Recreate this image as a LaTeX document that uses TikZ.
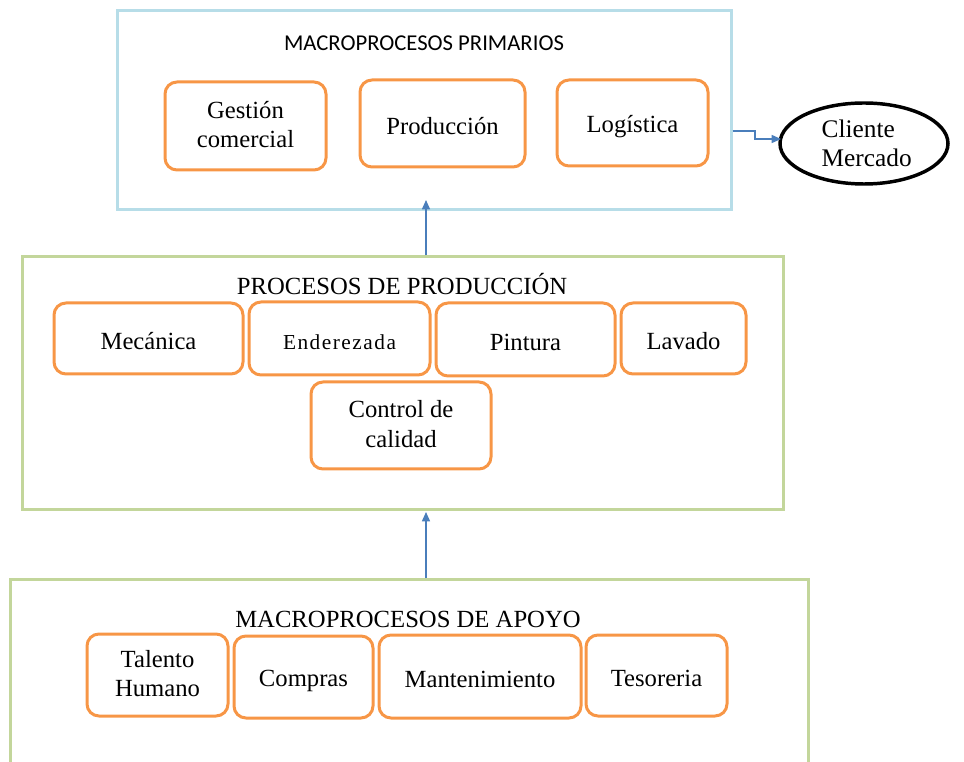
\documentclass[tikz,border=0pt]{standalone}
\usepackage{fontspec}
\setmainfont{Liberation Serif}
\newfontfamily\calibri{Carlito}
\usepackage{tikz}
\usetikzlibrary{shapes.geometric, arrows.meta}

\definecolor{procorange}{HTML}{F79646}
\definecolor{primblue}{HTML}{B7DDE8}
\definecolor{boxgreen}{HTML}{C3D69B}
\definecolor{linkblue}{HTML}{4A7EBB}

\newcommand{\procstrut}{\rule[-2pt]{0pt}{20pt}}

\begin{document}
\begin{tikzpicture}[x=0.75pt, y=-0.75pt, >={Triangle[length=7pt, width=6pt]}, font=\fontsize{18.5}{21.5}\selectfont]
                \tikzstyle{group}=[draw, line width=2.25pt, inner sep=0pt]
                \tikzstyle{proc}=[draw=procorange, line width=2.25pt, rounded corners=9pt, align=center, inner sep=0pt,
                                  execute at begin node=\procstrut, execute at end node=\procstrut]
                \tikzstyle{link}=[->, draw=linkblue, line width=1.1pt]

                \useasboundingbox (0,0) rectangle (964,762);

                % Define the groups
                \node[group, draw=primblue, minimum width=460.5pt, minimum height=149.25pt] (prim) at (424,110.5) {};
                \node[group, draw=boxgreen, minimum width=570.75pt, minimum height=189.75pt] (prod) at (402.5,383.5) {};
                \node[group, draw=boxgreen, minimum width=598.5pt, minimum height=146.25pt] (apoyo) at (409,677.5) {};

                % Titles
                \node[anchor=base, font=\calibri\fontsize{17}{20}\selectfont] (tprim) at (424,51) {MACROPROCESOS PRIMARIOS};
                \node[anchor=base] (tprod) at (402,295) {PROCESOS DE PRODUCCIÓN};
                \node[anchor=base] (tapoyo) at (408,628) {MACROPROCESOS DE APOYO};

                % Primary processes
                \node[proc, minimum width=120.75pt, minimum height=66pt] (gestion) at (245.5,126) {Gestión\\comercial};
                \node[proc, minimum width=123.75pt, minimum height=65.25pt] (produccion) at (442.5,123.5) {Producción};
                \node[proc, minimum width=113.25pt, minimum height=64.5pt] (logistica) at (632.5,123) {Logística};
                \node[ellipse, draw, line width=2.6pt, align=left, minimum width=126pt, minimum height=60.75pt, inner sep=0pt, font=\fontsize{19}{22}\selectfont] (cliente) at (864,143.5) {\hspace*{4pt}Cliente\\\hspace*{4pt}Mercado};

                % Production processes
                \node[proc, minimum width=141.75pt, minimum height=53.25pt] (mecanica) at (148.5,338.5) {Mecánica};
                \node[proc, minimum width=135.75pt, minimum height=54.75pt, font=\fontsize{16}{19}\selectfont\addfontfeature{LetterSpace=7}] (enderezada) at (339.5,338.5) {Enderezada};
                \node[proc, minimum width=134.25pt, minimum height=54.75pt] (pintura) at (525.5,339.5) {Pintura};
                \node[proc, minimum width=93.75pt, minimum height=53.25pt] (lavado) at (683.5,338.5) {Lavado};
                \node[proc, minimum width=135pt, minimum height=65.25pt, font=\fontsize{18.5}{22.5}\selectfont] (control) at (401,425.5) {Control de\\calidad};

                % Support processes
                \node[proc, minimum width=105.75pt, minimum height=61.5pt] (talento) at (157.5,675) {Talento\\Humano};
                \node[proc, minimum width=104.25pt, minimum height=61.5pt] (compras) at (303.5,677) {Compras};
                \node[proc, minimum width=151.5pt, minimum height=62.25pt] (mant) at (480,676.5) {Mantenimiento};
                \node[proc, minimum width=105.75pt, minimum height=60.75pt] (tesoreria) at (656.5,675.5) {Tesoreria};

                % Connect the groups
                \coordinate (up1) at (426,200);
                \coordinate (up2) at (426,512);
                \coordinate (bend) at (755,131);
                \coordinate (tip) at (781,139);

                \draw[link] (prod.north -| up1) -- (up1);
                \draw[link] (apoyo.north -| up2) -- (up2);
                \draw[link] (prim.east |- bend) -- (bend) |- (tip);

            \end{tikzpicture}
\end{document}
